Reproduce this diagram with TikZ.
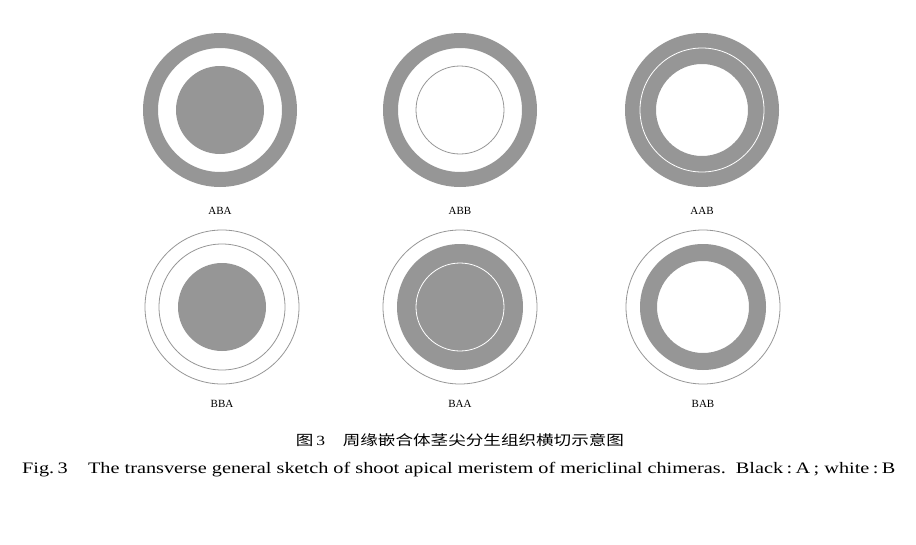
\documentclass[tikz,border=0pt]{standalone}
\usepackage{fontspec}
\usepackage{graphicx}
\setmainfont{Liberation Serif}
\newfontfamily\cjk{Noto Sans CJK SC}
\definecolor{g}{RGB}{150,150,150}
\begin{document}
\begin{tikzpicture}[x=1pt,y=-1pt,
 lab/.style={font=\fontsize{11}{12}\selectfont},
 thin/.style={draw=g,line width=0.8pt},
 wthin/.style={draw=white,line width=0.8pt}]
\useasboundingbox (0,0) rectangle (916,544);
% ABA
\fill[g,even odd rule] (220,110) circle (77) (220,110) circle (62);
\fill[g] (220,110) circle (44);
\node[lab] (l1) at (220,211) {ABA};
% ABB
\fill[g,even odd rule] (460,110) circle (77) (460,110) circle (62);
\draw[thin] (460,110) circle (44);
\node[lab] (l2) at (460,211) {ABB};
% AAB
\fill[g,even odd rule] (702,110) circle (77) (702,110) circle (46);
\draw[wthin] (702,110) circle (62);
\node[lab] (l3) at (702,211) {AAB};
% BBA
\draw[thin] (222,307) circle (77);
\draw[thin] (222,307) circle (63);
\fill[g] (222,307) circle (44);
\node[lab] (l4) at (222,404) {BBA};
% BAA
\draw[thin] (460,307) circle (77);
\fill[g] (460,307) circle (63);
\draw[wthin] (460,307) circle (44);
\node[lab] (l5) at (460,404) {BAA};
% BAB
\draw[thin] (703,307) circle (77);
\fill[g,even odd rule] (703,307) circle (63) (703,307) circle (46);
\node[lab] (l6) at (703,404) {BAB};
\node[font=\fontsize{14}{15}\selectfont] (c1) at (460,440) {\resizebox{328pt}{\height}{{\cjk 图}\,3\quad{\cjk 周缘嵌合体茎尖分生组织横切示意图}}};
\node[font=\fontsize{16}{17}\selectfont,anchor=west,inner sep=0pt] (c2) at (22,470) {\resizebox{873pt}{\height}{Fig.\,3\quad The transverse general sketch of shoot apical meristem of mericlinal chimeras.\ \ Black\,:\,A\,;\ white\,:\,B}};
\end{tikzpicture}
\end{document}
